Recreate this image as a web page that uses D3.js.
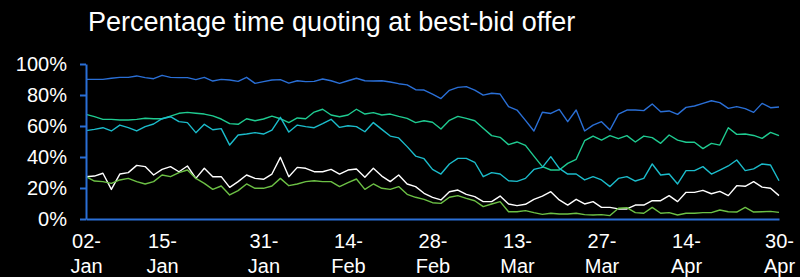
<!DOCTYPE html>
<html>
<head>
<meta charset="utf-8">
<script src="https://cdn.jsdelivr.net/npm/d3@7"></script>
<style>
  html, body { margin: 0; padding: 0; background: #000; }
  svg { display: block; }
</style>
</head>
<body>
<div id="chart"></div>
<script>
// tick labels on the x axis and the point index where each one sits
const tickLabels = ["02-Jan", "15-Jan", "31-Jan", "14-Feb", "28-Feb", "13-Mar", "27-Mar", "14-Apr", "30-Apr"];
const tickIndex = [0, 9, 21, 31, 41, 51, 61, 71, 82];
const yTicks = [0, 20, 40, 60, 80, 100];

// daily % of time quoting at best bid/offer
const blueSeries = [
  90.1, 90.1, 90.1, 90.8, 91.4, 91.4, 92.3, 91.2, 90.5, 92.7, 91.4, 91.2, 91.2, 89.9,
  91.4, 89.0, 90.1, 89.7, 88.8, 91.4, 87.5, 88.6, 89.7, 89.9, 87.7, 89.2, 88.6, 88.8,
  90.3, 89.2, 87.5, 89.2, 90.8, 89.2, 89.0, 89.2, 88.4, 87.3, 86.5, 83.4,
  83.2, 80.6, 77.7, 83.0, 84.9, 85.4, 83.2, 79.9, 81.1, 80.6, 72.5, 70.3, 63.6, 56.8, 68.9,
  68.1, 70.7, 62.8, 70.3, 56.8, 60.6, 62.8, 57.4, 67.7, 70.3, 70.3, 69.9, 74.2, 69.2,
  69.7, 67.5, 72.0, 72.9, 74.6, 76.3, 75.1, 71.4, 72.5, 71.2, 68.8, 74.6, 71.8, 72.3
];
const greenSeries = [
  67.5, 66.0, 64.3, 64.3, 63.9, 63.9, 64.3, 65.0, 64.7, 64.7, 66.4, 68.2, 68.8, 68.2,
  67.7, 66.5, 64.5, 61.5, 61.1, 64.7, 63.4, 64.5, 66.4, 64.7, 62.2, 65.2, 64.7, 69.0,
  70.8, 67.1, 66.0, 67.1, 70.8, 67.7, 68.6, 67.1, 67.7, 66.2, 64.9, 62.2, 63.4,
  62.4, 58.1, 63.7, 66.2, 64.9, 63.4, 58.5, 53.8, 52.7, 48.0, 49.7, 47.5, 40.6, 33.8,
  31.6, 31.6, 35.9, 38.5, 50.5, 53.5, 50.9, 53.8, 51.8, 53.8, 49.7, 53.5, 52.5, 48.8,
  54.2, 50.9, 49.5, 49.5, 45.4, 48.8, 47.7, 58.9, 54.6, 54.8, 53.9, 52.0, 55.9, 53.8
];
const cyanSeries = [
  57.0, 57.8, 58.9, 56.8, 60.6, 58.9, 56.8, 59.6, 61.3, 64.7, 66.0, 62.8, 62.2, 55.7,
  61.1, 57.6, 58.3, 47.7, 54.2, 54.8, 55.7, 54.8, 57.4, 65.6, 56.1, 60.6, 59.6, 58.9,
  61.5, 64.3, 59.1, 60.2, 59.6, 56.3, 62.2, 57.8, 53.5, 52.3, 46.7, 40.6, 38.9,
  32.0, 29.0, 35.5, 39.1, 39.1, 36.6, 27.3, 29.9, 29.0, 24.7, 24.3, 26.2, 32.0, 33.3,
  40.2, 32.7, 29.0, 29.0, 25.2, 27.3, 25.2, 20.9, 26.2, 27.3, 24.5, 26.2, 35.5, 28.4,
  29.0, 22.6, 31.2, 31.2, 33.8, 29.0, 31.6, 34.2, 38.1, 31.2, 32.3, 35.5, 34.8, 24.7
];
const whiteSeries = [
  27.3, 27.7, 29.5, 19.1, 29.0, 29.9, 34.6, 33.8, 28.4, 32.0, 33.8, 30.5, 34.2, 26.2,
  32.7, 27.3, 27.3, 20.4, 24.1, 28.4, 26.2, 25.6, 29.0, 39.8, 27.3, 33.3, 32.7, 30.5,
  30.5, 32.0, 29.0, 31.6, 32.3, 26.9, 32.7, 27.7, 24.1, 28.4, 22.6, 20.9, 16.6,
  14.0, 12.3, 17.6, 18.7, 15.9, 14.4, 11.2, 11.2, 14.8, 9.7, 8.6, 9.5, 12.7, 14.8,
  17.6, 12.3, 9.0, 12.7, 9.7, 11.2, 7.5, 7.5, 6.5, 6.5, 9.0, 9.0, 11.8, 11.8,
  15.1, 11.2, 17.2, 17.2, 18.5, 16.3, 17.8, 15.1, 21.5, 21.1, 24.1, 20.6, 19.8, 15.1
];
const limeSeries = [
  27.3, 24.5, 24.1, 23.0, 25.2, 26.2, 24.1, 22.6, 24.1, 28.4, 27.3, 29.9, 31.6, 26.2,
  23.0, 19.1, 21.3, 15.5, 18.3, 22.6, 19.8, 19.8, 21.3, 26.2, 21.5, 22.6, 24.1, 24.7,
  24.1, 24.1, 20.9, 23.4, 25.8, 19.1, 22.6, 19.8, 19.1, 20.9, 15.9, 14.0, 12.7,
  10.5, 10.1, 14.0, 15.1, 13.3, 11.8, 8.0, 9.7, 11.2, 4.7, 4.7, 5.4, 4.1, 3.0,
  3.7, 3.2, 3.2, 3.7, 2.8, 2.6, 2.8, 2.2, 6.9, 7.3, 4.1, 3.7, 7.5, 3.7,
  4.1, 2.6, 3.7, 3.7, 4.1, 4.1, 5.8, 4.7, 4.5, 7.5, 4.5, 4.7, 4.9, 4.3
];

const width = 800, height = 277;
const margin = { top: 64, right: 21, bottom: 58, left: 86 };
const font = "'Liberation Sans', Arial, sans-serif";
const axisBlue = "#2a6fd6";

const series = [
  { values: blueSeries, color: "#2a6fd6" },
  { values: greenSeries, color: "#1fcb91" },
  { values: cyanSeries, color: "#1bbccb" },
  { values: whiteSeries, color: "#ffffff" },
  { values: limeSeries, color: "#6cc045" }
];

const svg = d3.select("#chart")
  .append("svg")
  .attr("width", width)
  .attr("height", height)
  .style("background", "#000");

const x = d3.scaleLinear()
  .domain([0, blueSeries.length - 1])
  .range([margin.left, width - margin.right]);

const y = d3.scaleLinear()
  .domain([0, 100])
  .range([height - margin.bottom, margin.top]);

// title
svg.append("text")
  .attr("x", 88)
  .attr("y", 31)
  .attr("fill", "#fff")
  .attr("font-family", font)
  .attr("font-size", "27px")
  .text("Percentage time quoting at best-bid offer");

// lines
const line = d3.line()
  .x((d, i) => x(i))
  .y((d) => y(d));

svg.append("g")
  .selectAll("path")
  .data(series)
  .join("path")
  .attr("fill", "none")
  .attr("stroke", (d) => d.color)
  .attr("stroke-width", 1.4)
  .attr("stroke-linejoin", "round")
  .attr("d", (d) => line(d.values));

// y axis
const yAxis = svg.append("g")
  .attr("transform", `translate(${margin.left},0)`)
  .call(
    d3.axisLeft(y)
      .tickValues(yTicks)
      .tickSize(6)
      .tickSizeOuter(0)
      .tickPadding(13)
      .tickFormat((d) => d + "%")
  );
yAxis.select(".domain").attr("stroke", axisBlue).attr("stroke-width", 2);
yAxis.selectAll(".tick line").attr("stroke", axisBlue).attr("stroke-width", 2);
yAxis.selectAll(".tick text")
  .attr("fill", "#fff")
  .attr("font-family", font)
  .attr("font-size", "20px");

// x axis, labels split on two lines
const xAxis = svg.append("g")
  .attr("transform", `translate(0,${height - margin.bottom})`)
  .call(
    d3.axisBottom(x)
      .tickValues(tickIndex)
      .tickSize(0)
      .tickSizeOuter(0)
      .tickFormat((d, i) => tickLabels[i])
  );
xAxis.select(".domain").attr("stroke", axisBlue).attr("stroke-width", 2);
xAxis.selectAll(".tick text")
  .attr("fill", "#fff")
  .attr("font-family", font)
  .attr("font-size", "20px")
  .attr("y", 29)
  .attr("dy", null)
  .each(function () {
    const t = d3.select(this);
    const parts = t.text().split("-");
    t.text(null);
    t.append("tspan").attr("x", 0).attr("dy", 0).text(parts[0] + "-");
    t.append("tspan").attr("x", 0).attr("dy", 25).text(parts[1]);
  });
</script>
</body>
</html>
